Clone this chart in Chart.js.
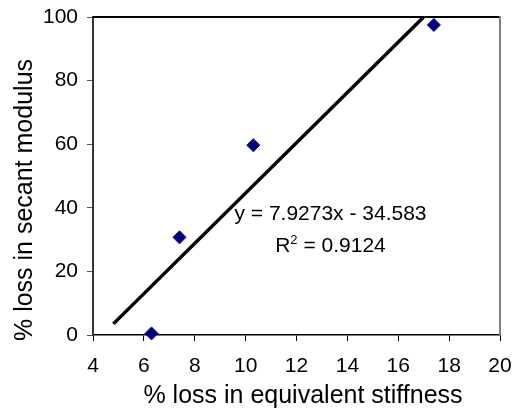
<!DOCTYPE html>
<html>
<head>
<meta charset="utf-8">
<script src="https://cdn.jsdelivr.net/npm/chart.js@4/dist/chart.umd.min.js"></script>
<style>
  html, body { margin: 0; padding: 0; background: #fff; }
  #wrap { width: 514px; height: 412px; position: relative; }
</style>
</head>
<body>
<div id="wrap"><canvas id="c" width="514" height="412"></canvas></div>
<script>
// ---- data ----
const stiffnessLoss = [6.3, 7.4, 10.3, 17.4];      // % loss in equivalent stiffness (x)
const secantLoss    = [0.5, 30.7, 59.7, 97.5];     // % loss in secant modulus (y)
const trendX = [4.8, 17.0];                        // linear trendline endpoints
const trendY = [3.5, 100];
const xTicks = [4, 6, 8, 10, 12, 14, 16, 18, 20];
const yTicks = [0, 20, 40, 60, 80, 100];
const xTitle = '% loss in equivalent stiffness';
const yTitle = '% loss in secant modulus';
const eqLine = 'y = 7.9273x - 34.583';
const r2Value = ' = 0.9124';

const FONT = "'Liberation Sans', Arial, sans-serif";

const pointsData = stiffnessLoss.map((x, i) => ({ x, y: secantLoss[i] }));
const trendData = trendX.map((x, i) => ({ x, y: trendY[i] }));

const extras = {
  id: 'extras',
  afterDraw(chart) {
    const { ctx, chartArea: a } = chart;
    ctx.save();
    // plot-area top and right borders
    ctx.lineWidth = 2;
    ctx.strokeStyle = '#000';
    ctx.beginPath(); ctx.moveTo(a.left, a.top); ctx.lineTo(a.right, a.top); ctx.stroke();
    ctx.strokeStyle = '#808080';
    ctx.beginPath(); ctx.moveTo(a.right, a.top - 1); ctx.lineTo(a.right, a.bottom); ctx.stroke();

    // equation label
    ctx.fillStyle = '#000';
    ctx.font = '21px ' + FONT;
    ctx.textBaseline = 'alphabetic';
    ctx.textAlign = 'center';
    const cx = a.left + (a.right - a.left) * 0.5835;
    ctx.fillText(eqLine, cx, a.top + 203);
    // R^2 line
    ctx.textAlign = 'left';
    const wR = ctx.measureText('R').width;
    const wRest = ctx.measureText(r2Value).width;
    ctx.font = '13px ' + FONT;
    const w2 = ctx.measureText('2').width;
    const total = wR + w2 + wRest;
    let sx = cx - total / 2;
    const by = a.top + 234.5;
    ctx.font = '21px ' + FONT;
    ctx.fillText('R', sx, by);
    ctx.font = '13px ' + FONT;
    ctx.fillText('2', sx + wR, by - 8);
    ctx.font = '21px ' + FONT;
    ctx.fillText(r2Value, sx + wR + w2, by);

    // axis titles
    ctx.font = '25px ' + FONT;
    ctx.textAlign = 'center';
    ctx.fillText(xTitle, 303, 403);
    ctx.translate(32, 200);
    ctx.rotate(-Math.PI / 2);
    ctx.fillText(yTitle, 0, 0);
    ctx.restore();
  }
};

new Chart(document.getElementById('c'), {
  type: 'scatter',
  data: {
    datasets: [
      {
        label: 'points',
        data: pointsData,
        pointStyle: 'rectRot',
        pointRadius: 6.5,
        pointHoverRadius: 6.5,
        backgroundColor: '#000080',
        borderColor: '#000080',
        borderWidth: 1,
        showLine: false,
        clip: false,
        order: 1
      },
      {
        label: 'trend',
        data: trendData,
        showLine: true,
        borderColor: '#000',
        borderWidth: 3.5,
        pointRadius: 0,
        pointHoverRadius: 0,
        fill: false,
        order: 2
      }
    ]
  },
  options: {
    responsive: false,
    animation: false,
    devicePixelRatio: 1,
    layout: { padding: { left: 0, right: 14, top: 17, bottom: 0 } },
    plugins: { legend: { display: false }, tooltip: { enabled: false }, title: { display: false } },
    scales: {
      x: {
        type: 'linear',
        min: 4, max: 20,
        afterBuildTicks(scale) { scale.ticks = xTicks.map(v => ({ value: v })); },
        afterFit(scale) { scale.height = 77; scale.paddingLeft = 0; scale.paddingRight = 0; },
        grid: { drawOnChartArea: false, drawTicks: true, tickLength: 6, color: '#000', lineWidth: 1 },
        border: { display: true, color: '#000', width: 1.5 },
        ticks: { color: '#000', font: { family: FONT, size: 21 }, padding: 13, maxRotation: 0, autoSkip: false },
        title: { display: false }
      },
      y: {
        type: 'linear',
        min: 0, max: 100,
        afterBuildTicks(scale) { scale.ticks = yTicks.map(v => ({ value: v })); },
        afterFit(scale) { scale.width = 93; scale.paddingTop = 0; scale.paddingBottom = 0; },
        grid: { drawOnChartArea: false, drawTicks: true, tickLength: 6, color: '#555', lineWidth: 1 },
        border: { display: true, color: '#333', width: 2 },
        ticks: { color: '#000', font: { family: FONT, size: 21 }, padding: 9, autoSkip: false },
        title: { display: false }
      }
    }
  },
  plugins: [extras]
});
</script>
</body>
</html>
